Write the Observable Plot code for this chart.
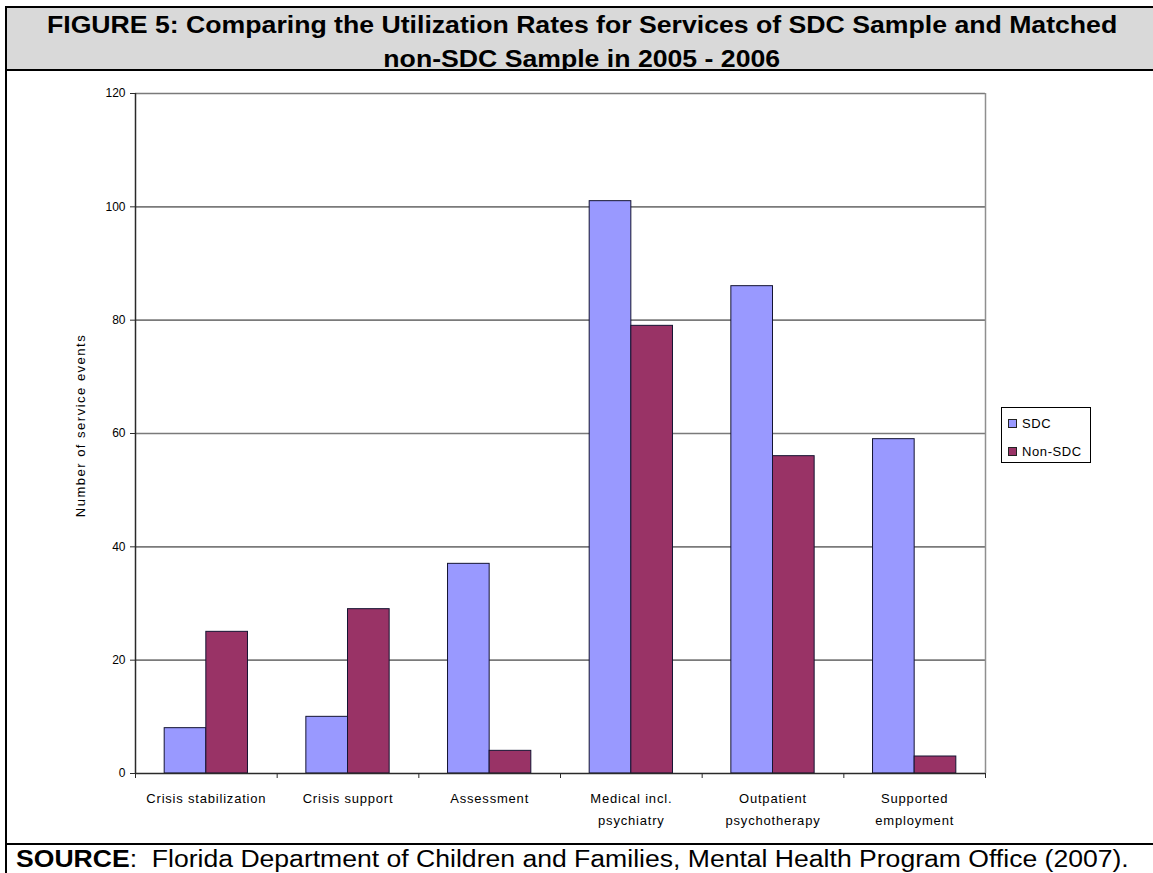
<!DOCTYPE html>
<html>
<head>
<meta charset="utf-8">
<script src="https://cdn.jsdelivr.net/npm/d3@7"></script>
<script src="https://cdn.jsdelivr.net/npm/@observablehq/plot@0.6"></script>
<style>
  html, body { margin: 0; padding: 0; background: #fff; overflow: hidden; width: 1153px; height: 873px; }
  body { position: relative; font-family: "Liberation Sans", Arial, sans-serif; }
  #title {
    position: absolute; left: 5px; top: 6px; width: 1150px; height: 61px;
    border-top: 2px solid #000; border-left: 2px solid #000; border-bottom: 2px solid #000;
    background: #d9d9d9; text-align: center; font-weight: bold; font-size: 24px; line-height: 34px; color: #000;
  }
  #title .line { display: block; }
  #title .line span { display: inline-block; transform: scaleX(1.11); transform-origin: 50% 50%; white-space: nowrap; }
  #chart { position: absolute; left: 5px; top: 71px; width: 1150px; height: 772px; border-left: 2px solid #000; }
  #source {
    position: absolute; left: 5px; top: 843px; width: 1150px; height: 40px;
    border-top: 2px solid #000; border-left: 2px solid #000;
    font-size: 23px; line-height: 26px; padding-top: 1px; padding-left: 9px; color: #000; box-sizing: border-box;
  }
  #source span.s { display: inline-block; transform: scaleX(1.155); transform-origin: 0 50%; white-space: nowrap; }
  #legend {
    position: absolute; left: 994px; top: 336px; width: 88px; height: 54px;
    border: 1px solid #000; background: #fff; font-size: 13px; letter-spacing: 0.6px; color: #000;
  }
  #legend .item { position: absolute; left: 6px; height: 14px; line-height: 14px; white-space: nowrap; }
  #legend .sw { display: inline-block; width: 7px; height: 7px; border: 1px solid #222; vertical-align: middle; margin-right: 5px; position: relative; top: -1px; }
</style>
</head>
<body>
<div id="title"></div>
<div id="chart"></div>
<div id="source"></div>
<script>
// ---- data ----
const categories = ["Crisis stabilization", "Crisis support", "Assessment", "Medical incl.\npsychiatry", "Outpatient\npsychotherapy", "Supported\nemployment"];
const series = ["SDC", "Non-SDC"];
const sdcValues = [8, 10, 37, 101, 86, 59];
const nonSdcValues = [25, 29, 4, 79, 56, 3];
const yTicks = [0, 20, 40, 60, 80, 100, 120];
const seriesColors = ["#9999ff", "#993366"];
const titleLines = ["FIGURE 5: Comparing the Utilization Rates for Services of SDC Sample and Matched", "non-SDC Sample in 2005 - 2006"];
const yLabel = "Number of service events";
const sourceLabel = "SOURCE";
const sourceText = ":  Florida Department of Children and Families, Mental Health Program Office (2007).";

// ---- table ----
const valuesBySeries = [sdcValues, nonSdcValues];
const rows = categories.flatMap((c, i) => series.map((s, k) => ({category: c, index: i, series: s, k, value: valuesBySeries[k][i]})));

const BAR = 0.294; // bar width as a fraction of a category slot

document.getElementById("title").innerHTML = titleLines.map(t => `<div class="line"><span>${t}</span></div>`).join("");
document.getElementById("source").innerHTML = `<span class="s"><b>${sourceLabel}</b>${sourceText.replace(/ {2}/, " &nbsp;")}</span>`;

const chart = Plot.plot({
  width: 1146,
  height: 772,
  marginLeft: 128,
  marginRight: 168,
  marginTop: 22,
  marginBottom: 70,
  style: {fontFamily: '"Liberation Sans", Arial, sans-serif', background: "#fff", color: "#000"},
  x: {type: "linear", domain: [0, categories.length], axis: null},
  y: {domain: [0, 120], axis: null},
  color: {domain: series, range: seriesColors},
  marks: [
    Plot.ruleY(yTicks.filter(v => v > 0), {stroke: "#7a7a7a", strokeWidth: 1.6}),
    Plot.ruleX([categories.length], {stroke: "#8f8f8f", strokeWidth: 1.5}),
    Plot.rectY(rows, {
      x1: d => d.index + 0.5 + (d.k - 1) * BAR,
      x2: d => d.index + 0.5 + d.k * BAR,
      y: "value",
      fill: "series",
      stroke: "#141432",
      strokeWidth: 1
    }),
    Plot.ruleX([0], {stroke: "#2a2a2a", strokeWidth: 1.5}),
    Plot.ruleY([0], {stroke: "#2a2a2a", strokeWidth: 1.5}),
    Plot.axisY({ticks: yTicks, tickSize: 5, tickPadding: 5, tickFormat: d3.format("d"), fontSize: 12, label: null, stroke: "#2a2a2a"}),
    Plot.axisX({ticks: d3.range(0, categories.length + 1), tickSize: 5, tickFormat: () => "", label: null, stroke: "#2a2a2a"}),
    Plot.text(categories, {x: (d, i) => i + 0.5, frameAnchor: "bottom", dy: 14, lineAnchor: "top", lineHeight: 1.7, fontSize: 13, fill: "#000", style: "letter-spacing: 0.8px"}),
    Plot.text([yLabel], {frameAnchor: "left", textAnchor: "middle", rotate: -90, dx: -55, dy: -8, fontSize: 13, fill: "#000"})
  ]
});
// letter spacing for the rotated axis title and category labels
chart.querySelectorAll("text").forEach(t => {
  if (t.textContent === yLabel) t.setAttribute("letter-spacing", "1.5");
  else if (t.closest("g") && t.getAttribute("font-size") === "13") t.setAttribute("letter-spacing", "0.8");
});
chart.querySelectorAll('g[font-size="13"] text').forEach(t => {
  t.setAttribute("letter-spacing", t.textContent === yLabel ? "1.5" : "0.8");
});
document.getElementById("chart").appendChild(chart);

// legend (HTML, built from series + colors)
const legend = document.createElement("div");
legend.id = "legend";
legend.innerHTML = series.map((s, k) =>
  `<div class="item" style="top:${9 + k * 28}px"><span class="sw" style="background:${seriesColors[k]}"></span>${s}</div>`
).join("");
document.getElementById("chart").appendChild(legend);
</script>
</body>
</html>
